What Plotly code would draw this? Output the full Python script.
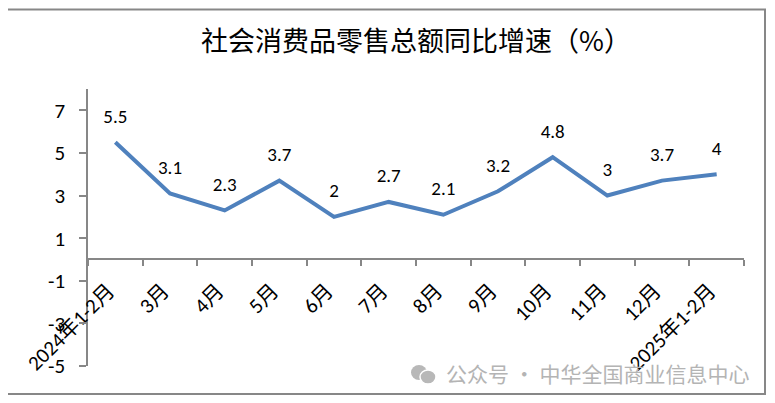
import plotly.graph_objects as go

categories = ["2024年1-2月", "3月", "4月", "5月", "6月", "7月", "8月", "9月",
              "10月", "11月", "12月", "2025年1-2月"]
values = [5.5, 3.1, 2.3, 3.7, 2.0, 2.7, 2.1, 3.2, 4.8, 3.0, 3.7, 4.0]
value_labels = ["5.5", "3.1", "2.3", "3.7", "2", "2.7", "2.1", "3.2", "4.8", "3", "3.7", "4"]
y_ticks = [-5, -3, -1, 1, 3, 5, 7]
title_text = "社会消费品零售总额同比增速（%）"
watermark = "公众号 · 中华全国商业信息中心"

OFF = 8  # page body margin in the browser
W, H = 775 - 2 * OFF, 403 - 2 * OFF
# plot area in page pixels (from the reference)
PL, PR, PT, PB = 88, 744, 89, 366
L, T = PL - OFF, PT - OFF
PW, PH = PR - PL, PB - PT
R, B = W - L - PW, H - T - PH
ymin, ymax = -5, 8.0

def px(x):
    return (x - PL) / PW

def py(y):
    return (PB - y) / PH

font_fam = "Carlito, Calibri, Lato, Noto Sans CJK SC, sans-serif"

fig = go.Figure()
fig.add_trace(go.Scatter(
    x=categories, y=values,
    mode="lines+markers+text",
    line=dict(color="#4F81BD", width=4),
    marker=dict(size=22, color="rgba(0,0,0,0)"),
    text=value_labels,
    textposition="top center",
    textfont=dict(size=19, color="#000000", family=font_fam),
    cliponaxis=False,
    hoverinfo="skip",
))

axis_color = "#878787"
fig.update_layout(
    width=W, height=H,
    margin=dict(l=L, r=R, t=T, b=B, autoexpand=False),
    paper_bgcolor="white", plot_bgcolor="white",
    showlegend=False,
    title=dict(text=title_text, x=0.5, xref="paper", xanchor="center",
               y=1 - (42 - OFF) / H, yanchor="middle",
               font=dict(size=27, color="#000000", family="Noto Sans CJK SC")),
    xaxis=dict(
        type="category",
        automargin=False,
        anchor="free", position=(0 - ymin) / (ymax - ymin),
        showline=True, linecolor=axis_color, linewidth=1.5,
        ticks="outside", ticklen=6, tickcolor=axis_color, tickwidth=1.5,
        tickson="boundaries",
        tickangle=-45,
        ticklabelstandoff=10,
        ticklabelshift=-7,
        tickfont=dict(size=21, color="#000000", family=font_fam),
        showgrid=False, zeroline=False,
        range=[-0.5, len(categories) - 0.5],
    ),
    yaxis=dict(
        automargin=False,
        range=[ymin, ymax],
        tickvals=y_ticks,
        ticktext=[str(v) for v in y_ticks],
        showline=True, linecolor=axis_color, linewidth=1.5,
        ticks="outside", ticklen=7, tickcolor=axis_color, tickwidth=1.5,
        ticklabelstandoff=10,
        tickfont=dict(size=21, color="#000000", family=font_fam),
        showgrid=False, zeroline=False,
    ),
)

# outer chart border
fig.add_shape(type="rect", xref="paper", yref="paper",
              x0=px(6), x1=px(765), y0=py(394), y1=py(9.5),
              line=dict(color="#878787", width=2), layer="below")

# watermark icon (two speech bubbles)
fig.add_shape(type="circle", xref="paper", yref="paper",
              x0=px(411), x1=px(427), y0=py(380), y1=py(365),
              fillcolor="#b8b8b8", line=dict(width=0))
fig.add_shape(type="circle", xref="paper", yref="paper",
              x0=px(420), x1=px(436), y0=py(384), y1=py(370),
              fillcolor="#b8b8b8", line=dict(color="white", width=1.5))

fig.add_annotation(text=watermark, xref="paper", yref="paper",
                   x=px(444), y=py(373), xanchor="left", yanchor="middle",
                   showarrow=False,
                   font=dict(size=21, color="#b4b4b4", family="Noto Sans CJK SC"))

fig.write_html("out.html")
